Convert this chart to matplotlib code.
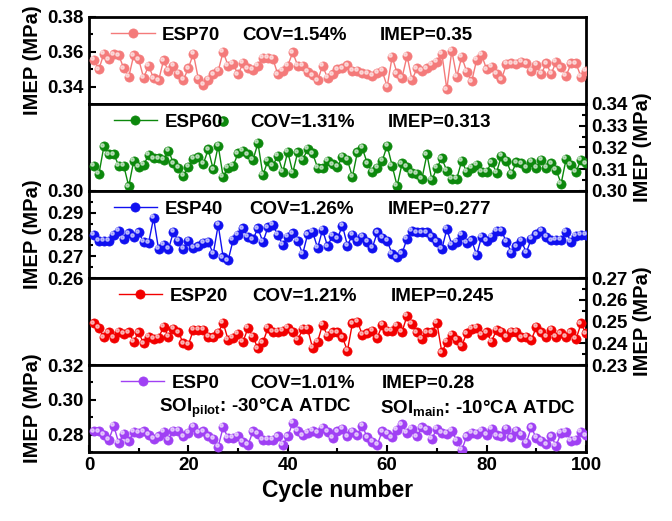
import numpy as np
import matplotlib
matplotlib.use('Agg')
import matplotlib.pyplot as plt
from matplotlib.ticker import MultipleLocator
from matplotlib.transforms import offset_copy

plt.rcParams['font.family'] = ['Liberation Sans', 'DejaVu Sans']
plt.rcParams['font.weight'] = 'bold'
plt.rcParams['mathtext.fontset'] = 'custom'
plt.rcParams['mathtext.rm'] = 'Liberation Sans:bold'
plt.rcParams['mathtext.bf'] = 'Liberation Sans:bold'

# cycle numbers
cycles = np.arange(1, 101)

# IMEP per cycle (MPa)
esp70 = [0.3553, 0.350, 0.359, 0.3557, 0.3586, 0.358, 0.3505, 0.3455, 0.358, 0.3557,
         0.345, 0.352, 0.3448, 0.3435, 0.355, 0.349, 0.352, 0.3475, 0.344, 0.3505,
         0.359, 0.3445, 0.341, 0.344, 0.347, 0.349, 0.360, 0.352, 0.353, 0.347,
         0.3535, 0.3505, 0.3495, 0.352, 0.3567, 0.3567, 0.356, 0.347, 0.349, 0.352,
         0.3597, 0.352, 0.352, 0.3485, 0.3465, 0.3435, 0.352, 0.345, 0.347, 0.350,
         0.3505, 0.3522, 0.349, 0.349, 0.3477, 0.3473, 0.3461, 0.348, 0.349, 0.340,
         0.3571, 0.3477, 0.3452, 0.3577, 0.3438, 0.3505, 0.349, 0.3505, 0.3524, 0.3543,
         0.359, 0.3385, 0.3606, 0.3456, 0.3571, 0.3486, 0.343, 0.3553, 0.3582, 0.350,
         0.3514, 0.3473, 0.3442, 0.3529, 0.3533, 0.3529, 0.3543, 0.3533, 0.349, 0.3524,
         0.3473, 0.3533, 0.3473, 0.3543, 0.351, 0.3461, 0.3533, 0.3533, 0.3456, 0.349]

esp60 = [0.3116, 0.3078, 0.3205, 0.3169, 0.3169, 0.3116, 0.3116, 0.3022, 0.3138, 0.3112,
         0.3119, 0.3166, 0.315, 0.315, 0.3143, 0.3186, 0.3127, 0.3107, 0.307, 0.3112,
         0.3147, 0.3155, 0.3124, 0.3192, 0.3099, 0.3208, 0.3065, 0.3108, 0.3115, 0.3173,
         0.3186, 0.3169, 0.3143, 0.322, 0.3073, 0.314, 0.3116, 0.3163, 0.3088, 0.3181,
         0.3084, 0.3178, 0.3143, 0.3194, 0.3173, 0.3107, 0.3104, 0.3138, 0.3123, 0.3112,
         0.3158, 0.3143, 0.3065, 0.3178, 0.3197, 0.3127, 0.3088, 0.3107, 0.3138, 0.3209,
         0.3116, 0.3023, 0.3127, 0.3112, 0.3085, 0.308, 0.3057, 0.3169, 0.305, 0.3107,
         0.315, 0.3093, 0.3057, 0.3057, 0.3138, 0.3088, 0.3107, 0.3119, 0.3088, 0.3088,
         0.3132, 0.3085, 0.3163, 0.3138, 0.308, 0.3132, 0.3127, 0.3107, 0.3135, 0.3107,
         0.3143, 0.3107, 0.3127, 0.3096, 0.3034, 0.3147, 0.3119, 0.3088, 0.3143, 0.3127]
# stray point drawn next to the ESP60 label
esp60_extra_x = [27]
esp60_extra_y = [0.332]

esp40 = [0.2797, 0.277, 0.277, 0.277, 0.2797, 0.2817, 0.2781, 0.2806, 0.279, 0.281,
         0.2765, 0.2762, 0.2876, 0.2733, 0.2754, 0.2733, 0.2812, 0.277, 0.2733, 0.277,
         0.2738, 0.2746, 0.2762, 0.2767, 0.2711, 0.2844, 0.2695, 0.2682, 0.2774, 0.2797,
         0.2829, 0.279, 0.2778, 0.2829, 0.2765, 0.2833, 0.2844, 0.2797, 0.2754, 0.279,
         0.2806, 0.277, 0.2711, 0.2801, 0.2812, 0.2738, 0.2822, 0.2746, 0.2794, 0.2782,
         0.2841, 0.2749, 0.2797, 0.277, 0.279, 0.2765, 0.2738, 0.281, 0.2786, 0.277,
         0.2711, 0.2695, 0.2714, 0.2781, 0.2817, 0.281, 0.281, 0.281, 0.279, 0.2765,
         0.2733, 0.2825, 0.2754, 0.2765, 0.2797, 0.2762, 0.2773, 0.2706, 0.279, 0.277,
         0.279, 0.2817, 0.2817, 0.2765, 0.2717, 0.2746, 0.277, 0.2717, 0.2781, 0.2801,
         0.2817, 0.279, 0.2773, 0.2774, 0.2774, 0.2812, 0.2765, 0.2793, 0.2797, 0.2797]

esp20 = [0.2491, 0.247, 0.2427, 0.245, 0.2424, 0.2454, 0.2442, 0.245, 0.2408, 0.245,
         0.2399, 0.243, 0.2419, 0.2424, 0.2476, 0.243, 0.2465, 0.245, 0.2399, 0.2393,
         0.2461, 0.2461, 0.2461, 0.243, 0.2427, 0.2448, 0.2495, 0.2415, 0.2424, 0.2442,
         0.2408, 0.247, 0.243, 0.2376, 0.2404, 0.247, 0.2454, 0.2454, 0.2457, 0.2472,
         0.2454, 0.2415, 0.2465, 0.2465, 0.2378, 0.2408, 0.2485, 0.2434, 0.245, 0.245,
         0.2427, 0.2366, 0.2491, 0.250, 0.2439, 0.2445, 0.2457, 0.2424, 0.2485, 0.2457,
         0.2457, 0.248, 0.2454, 0.2526, 0.2488, 0.245, 0.2419, 0.245, 0.245, 0.2495,
         0.2358, 0.2408, 0.2439, 0.2415, 0.2389, 0.2445, 0.2465, 0.247, 0.2439, 0.245,
         0.2408, 0.2461, 0.2454, 0.243, 0.2454, 0.2454, 0.2427, 0.243, 0.2415, 0.2474,
         0.245, 0.243, 0.2461, 0.243, 0.2445, 0.243, 0.245, 0.2419, 0.2491, 0.2445]

esp0 = [0.2819, 0.2819, 0.280, 0.2771, 0.2849, 0.2751, 0.2804, 0.2761, 0.2815, 0.281,
        0.2819, 0.280, 0.2776, 0.279, 0.2815, 0.2771, 0.2823, 0.2823, 0.279, 0.281,
        0.2843, 0.281, 0.2819, 0.279, 0.2776, 0.2731, 0.2843, 0.278, 0.278, 0.2794,
        0.2757, 0.2741, 0.2819, 0.2804, 0.2771, 0.2771, 0.2771, 0.279, 0.2741, 0.279,
        0.2868, 0.2823, 0.2796, 0.281, 0.2823, 0.281, 0.2839, 0.2815, 0.278, 0.2819,
        0.2835, 0.279, 0.2815, 0.2796, 0.2849, 0.2784, 0.2757, 0.2741, 0.2819, 0.2804,
        0.2784, 0.2829, 0.2859, 0.281, 0.2835, 0.279, 0.2841, 0.2829, 0.2776, 0.2835,
        0.281, 0.2804, 0.2823, 0.2765, 0.2712, 0.279, 0.281, 0.2804, 0.2823, 0.280,
        0.2835, 0.2796, 0.279, 0.2835, 0.2784, 0.2823, 0.280, 0.2753, 0.2841, 0.278,
        0.2765, 0.2745, 0.279, 0.2737, 0.281, 0.2815, 0.2765, 0.2771, 0.2815, 0.2796]

names = ['ESP70', 'ESP60', 'ESP40', 'ESP20', 'ESP0']
covs = ['COV=1.54%', 'COV=1.31%', 'COV=1.26%', 'COV=1.21%', 'COV=1.01%']
imeps = ['IMEP=0.35', 'IMEP=0.313', 'IMEP=0.277', 'IMEP=0.245', 'IMEP=0.28']
series = [esp70, esp60, esp40, esp20, esp0]
colors = ['#F47A7A', '#0C880C', '#1010F0', '#F20000', '#A040F4']
ylims = [(0.33, 0.38), (0.30, 0.34), (0.26, 0.30), (0.23, 0.27), (0.27, 0.32)]
majors = [0.02, 0.01, 0.01, 0.01, 0.02]
sides = ['left', 'right', 'left', 'right', 'left']
# text anchors (axes fraction) for legend, COV and IMEP in each panel
leg_x = [0.03, 0.035, 0.035, 0.045, 0.05]
cov_x = [0.308, 0.324, 0.322, 0.328, 0.325]
imep_x = [0.586, 0.602, 0.602, 0.608, 0.59]

fig, axes = plt.subplots(5, 1, sharex=True, figsize=(6.72, 5.21), dpi=100)
fig.subplots_adjust(left=0.1324, right=0.872, top=0.9674, bottom=0.1324, hspace=0)

fs = 13.5
for i, ax in enumerate(axes):
    c = colors[i]
    ax.plot(cycles, series[i], '-', color=c, lw=1.0, marker='o', ms=6.6,
            mfc=c, mec=c, mew=0.5, label=names[i], zorder=3)
    # small highlight to mimic the shaded balls
    hl = offset_copy(ax.transData, fig=fig, x=-1.2, y=1.2, units='points')
    ax.plot(cycles, series[i], 'o', ms=2.4, color='white', alpha=0.55,
            transform=hl, zorder=4)
    if i == 1:
        ax.plot(esp60_extra_x, esp60_extra_y, 'o', ms=6.6, color=c, zorder=3)
        ax.plot(esp60_extra_x, esp60_extra_y, 'o', ms=2.4, color='white',
                alpha=0.55, transform=hl, zorder=4)

    ax.set_xlim(0, 100)
    ax.set_ylim(*ylims[i])
    ax.yaxis.set_major_locator(MultipleLocator(majors[i]))
    ax.yaxis.set_minor_locator(MultipleLocator(majors[i] / 2))
    ax.yaxis.set_major_formatter(plt.FormatStrFormatter('%.2f'))

    for s in ax.spines.values():
        s.set_linewidth(2)

    side = sides[i]
    ax.yaxis.set_label_position(side)
    ax.tick_params(axis='y', which='both', direction='in', width=1.5,
                   left=(side == 'left'), right=(side == 'right'),
                   labelleft=(side == 'left'), labelright=(side == 'right'),
                   labelsize=fs)
    ax.tick_params(axis='y', which='major', length=5)
    ax.tick_params(axis='y', which='minor', length=3)
    ax.set_ylabel('IMEP (MPa)', fontsize=14.5, fontweight='bold')

    ax.tick_params(axis='x', which='both', direction='in', width=1.5,
                   bottom=(i == 4), top=False, labelsize=fs)
    ax.tick_params(axis='x', which='major', length=5)
    ax.tick_params(axis='x', which='minor', length=3)

    ax.legend(loc='center left', bbox_to_anchor=(leg_x[i], 0.79), frameon=False,
              handlelength=2.3, handletextpad=0.4, borderaxespad=0,
              prop={'size': fs, 'weight': 'bold'})
    ax.text(cov_x[i], 0.79, covs[i], transform=ax.transAxes, va='center',
            fontsize=fs, fontweight='bold')
    ax.text(imep_x[i], 0.79, imeps[i], transform=ax.transAxes, va='center',
            fontsize=fs, fontweight='bold')

axes[4].xaxis.set_major_locator(MultipleLocator(20))
axes[4].xaxis.set_minor_locator(MultipleLocator(10))
axes[4].set_xlabel('Cycle number', fontsize=16.5, fontweight='bold')

axes[4].text(0.14, 0.50, r'SOI$_{\mathrm{pilot}}$: -30°CA ATDC', transform=axes[4].transAxes,
             va='center', fontsize=fs, fontweight='bold')
axes[4].text(0.585, 0.50, r'SOI$_{\mathrm{main}}$: -10°CA ATDC', transform=axes[4].transAxes,
             va='center', fontsize=fs, fontweight='bold')

plt.savefig('out.png', dpi=100)
